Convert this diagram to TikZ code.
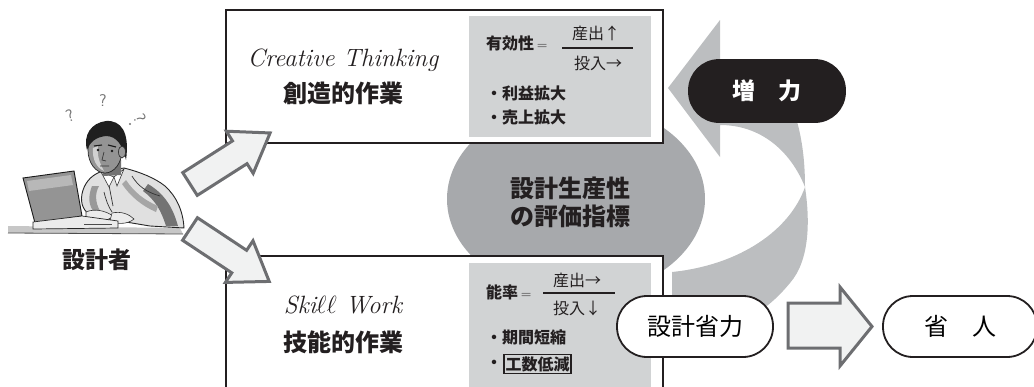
\documentclass[tikz,border=0pt]{standalone}
\usepackage{fontspec}
\newfontfamily\jpfont{Noto Sans CJK JP}
\usetikzlibrary{shapes.geometric}
\definecolor{ink}{HTML}{231F20}
\definecolor{panel}{HTML}{D1D3D4}
\definecolor{disc}{HTML}{A7A9AC}
\definecolor{swirl}{HTML}{BCBEC0}
\definecolor{arrowfill}{HTML}{F1F2F2}
\definecolor{arrowline}{HTML}{6D6E71}
\begin{document}
\begin{tikzpicture}[x=1pt,y=-1pt,
  card/.style={draw=ink,line width=1.5pt,fill=white,rectangle,inner sep=0pt},
  panelbox/.style={fill=panel,rectangle,inner sep=0pt},
  pill/.style={draw=ink,line width=1.8pt,fill=white,rounded corners=30pt,
    minimum width=156pt,minimum height=61pt,inner sep=0pt,
    font=\jpfont\fontsize{24}{24}\selectfont},
  blockarrow/.style={fill=arrowfill,draw=arrowline,line width=3pt,line join=miter},
  entitle/.style={font=\itshape\fontsize{25}{25}\selectfont,text=ink},
  jptitle/.style={font=\jpfont\bfseries\fontsize{24}{24}\selectfont,text=ink},
  small/.style={font=\jpfont\fontsize{16}{16}\selectfont,text=ink,inner sep=1pt},
  smallb/.style={font=\jpfont\bfseries\fontsize{16}{16}\selectfont,text=ink,inner sep=1pt},
  qmark/.style={font=\sffamily\fontsize{17}{17}\selectfont,text=black!55,inner sep=0pt}
]
\useasboundingbox (0,0) rectangle (1034,386);
\clip (0,0) rectangle (1034,386);

% ---- central evaluation disc and the returning swirl arrow
\node[ellipse,fill=disc,minimum width=258pt,minimum height=194pt,inner sep=0pt] (kpi) at (576,199) {};
\fill[swirl] (668,88) -- (720,20) -- (720,62)
  .. controls (760,70) and (790,95) .. (798,125)
  .. controls (803,145) and (805,165) .. (805,187)
  .. controls (790,150) and (760,125) .. (720,125)
  -- (720,157) -- cycle;
\fill[swirl] (805,187)
  .. controls (810,220) and (810,260) .. (790,283)
  .. controls (780,295) and (770,305) .. (750,318)
  -- (690,318) -- (672,300) -- (672,272)
  .. controls (740,265) and (790,230) .. (805,187) -- cycle;

% ---- the two work boxes
\node[card,minimum width=437pt,minimum height=133pt] (creative) at (444.5,76.5) {};
\node[card,minimum width=437pt,minimum height=170pt] (skill) at (444.5,341) {};
\node[panelbox,minimum width=182pt,minimum height=121pt] (effpanel) at (560,76.5) {};
\node[panelbox,minimum width=182pt,minimum height=140pt] (ratepanel) at (560,333) {};

\node[font=\jpfont\bfseries\fontsize{24}{24}\selectfont,text=ink,align=center] (kpitext) at (570,202)
  {設計生産性\\[4pt]の評価指標};

\node[entitle] (ctEn) at (343,60) {Creative Thinking};
\node[jptitle] (ctJp) at (343,93) {創造的作業};
\node[entitle] (swEn) at (343,305) {Ski$\ell\ell$ Work};
\node[jptitle] (swJp) at (343,342) {技能的作業};

% effectiveness formula
\node[smallb,anchor=west] (effL) at (485,43) {有効性\,{\rmfamily\normalfont\fontsize{14}{14}\selectfont=}};
\node[small] (effN) at (596,33) {産出↑};
\node[small] (effD) at (598,63) {投入→};
\draw[ink,line width=1.2pt] (562,48) coordinate (effA) -- (633,48) coordinate (effB);
\node[smallb,anchor=west] (eff1) at (485,93) {・利益拡大};
\node[smallb,anchor=west] (eff2) at (485,117) {・売上拡大};

% efficiency formula
\node[smallb,anchor=west] (rateL) at (485,292) {能率\,{\rmfamily\normalfont\fontsize{14}{14}\selectfont=}};
\node[small] (rateN) at (577,280) {産出→};
\node[small] (rateD) at (577,308) {投入↓};
\draw[ink,line width=1.2pt] (543,293) coordinate (rateA) -- (615,293) coordinate (rateB);
\node[smallb,anchor=west] (rate1) at (485,337) {・期間短縮};
\node[smallb,anchor=west] (rate2) at (485,364) {・};
\node[smallb,draw=ink,line width=1.2pt,inner sep=1.5pt,anchor=west] (rate2box) at (rate2.east) {工数低減};

% ---- pills
\node[pill,fill=ink,text=white,font=\jpfont\bfseries\fontsize{23}{23}\selectfont,minimum height=62pt] (gain) at (767,91) {増\hspace{1em}力};
\node[pill] (saving) at (695,326.5) {設計省力};
\node[pill,minimum width=154pt] (staff) at (960,326.5) {省\hspace{1em}人};
\path[blockarrow] (788,303) -- (840,303) -- (840,287) -- (872,326.5)
  -- (840,366) -- (840,348) -- (788,348) -- cycle;

% ---- designer at a laptop
\fill[black!22] (8,226) -- (180,228) -- (183,234) -- (8,233) -- cycle;
\draw[black!70,line width=0.8pt] (8,233) -- (183,234);
% torso and arms
\filldraw[fill=black!12,draw=black!85,line width=0.9pt]
  (100,172) .. controls (90,176) and (84,184) .. (82,194)
  .. controls (80,204) and (84,212) .. (92,216)
  -- (120,221) -- (150,226) -- (184,228)
  .. controls (183,210) and (176,196) .. (165,186)
  .. controls (155,178) and (140,172) .. (124,168) -- cycle;
\fill[black!55] (148,184) .. controls (165,194) and (173,208) .. (178,226) -- (166,226)
  .. controls (161,210) and (155,200) .. (143,191) -- cycle;
\fill[black!40] (92,186) .. controls (88,196) and (88,206) .. (95,213) -- (100,211)
  .. controls (95,202) and (95,193) .. (99,186) -- cycle;
\fill[black!35] (126,180) .. controls (134,192) and (144,200) .. (158,206) -- (156,212)
  .. controls (142,206) and (130,196) .. (122,184) -- cycle;
\draw[black!80,line width=0.7pt] (108,180) -- (113,206) (132,176) .. controls (138,186) and (146,192) .. (160,196)
  (104,192) .. controls (106,200) and (108,206) .. (112,212);
% collar
\filldraw[fill=white,draw=black!80,line width=0.6pt] (101,172) -- (109,187) -- (114,177) -- cycle;
\filldraw[fill=white,draw=black!80,line width=0.6pt] (124,169) -- (117,186) -- (114,177) -- cycle;
% hands on the keyboard
\filldraw[fill=black!8,draw=black!80,line width=0.6pt] (86,212) .. controls (95,208) and (106,211) .. (113,216)
  .. controls (108,222) and (96,222) .. (86,219) -- cycle;
\filldraw[fill=black!8,draw=black!80,line width=0.6pt] (112,213) .. controls (121,211) and (129,214) .. (134,219)
  .. controls (127,225) and (116,224) .. (110,221) -- cycle;
% neck and head
\fill[black!55] (101,162) -- (121,160) -- (121,175) -- (103,176) -- cycle;
\filldraw[fill=black!42,draw=black!85,line width=0.7pt] (105,150) ellipse [x radius=17pt,y radius=23pt];
\fill[black!18] (93,148) .. controls (92,160) and (97,168) .. (104,171) .. controls (99,162) and (97,155) .. (98,146) -- cycle;
\fill[black!88] (87,150) .. controls (83,135) and (91,123) .. (106,121)
  .. controls (121,120) and (130,132) .. (126,160)
  .. controls (123,146) and (117,136) .. (106,136)
  .. controls (96,137) and (90,142) .. (87,150) -- cycle;
\filldraw[fill=black!40,draw=black!85,line width=0.6pt] (122,152) ellipse [x radius=3.5pt,y radius=6pt];
\draw[black!90,line width=1.1pt] (94,146) -- (102,145) (108,145) -- (116,147);
\fill[black!90] (98,150) circle [radius=1.3pt] (112,151) circle [radius=1.3pt];
\draw[black!80,line width=0.7pt] (104,152) -- (102,160) -- (106,161) (100,166) -- (109,166);
% laptop
\filldraw[fill=black!42,draw=black!90,line width=0.9pt] (23,178) -- (74,171) -- (82,216) -- (35,223) -- cycle;
\fill[black!28] (27,181) -- (71,175) -- (73,185) -- (29,191) -- cycle;
\filldraw[fill=black!8,draw=black!85,line width=0.7pt] (33,222) -- (82,216) -- (118,221) -- (118,228) -- (33,229) -- cycle;
\draw[black!70,line width=0.6pt] (84,224) -- (112,224);
% puzzled marks
\node[qmark,rotate=20] (q1) at (70,116) {?};
\node[qmark] (q2) at (103,101) {?};
\node[qmark,rotate=-65] (q3) at (140,118) {?};
\fill[black!55] (130,124) circle [radius=1.1pt];

\node[jptitle,font=\jpfont\bfseries\fontsize{23}{23}\selectfont] (designer) at (97,260) {設計者};

% ---- arrows from the designer to the two kinds of work
\begin{scope}[shift={(190,184)},rotate=32.5]
  \path[blockarrow] (0,-13.5) -- (59,-13.5) -- (59,-25) -- (95,0) -- (59,25) -- (59,13.5) -- (0,13.5) -- cycle;
\end{scope}
\begin{scope}[shift={(190,229)},rotate=-33.5]
  \path[blockarrow] (0,-13.5) -- (59,-13.5) -- (59,-25) -- (95,0) -- (59,25) -- (59,13.5) -- (0,13.5) -- cycle;
\end{scope}
\end{tikzpicture}
\end{document}
